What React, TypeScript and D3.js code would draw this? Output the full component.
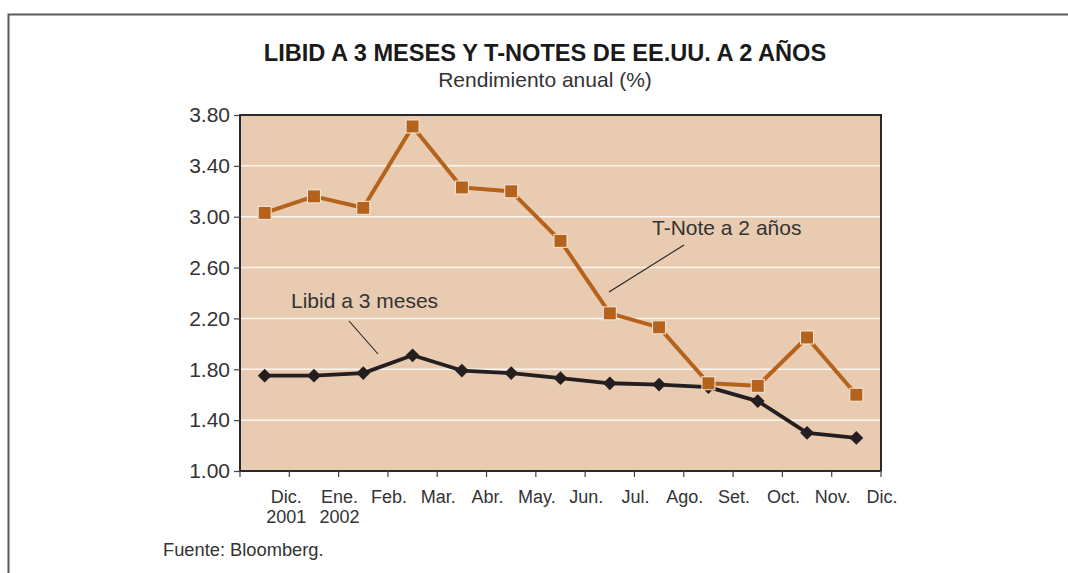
import React, { useRef, useEffect } from "react";
import * as d3 from "d3";

const months = ["Dic.", "Ene.", "Feb.", "Mar.", "Abr.", "May.", "Jun.", "Jul.", "Ago.", "Set.", "Oct.", "Nov.", "Dic."];
const years = ["2001", "2002", "", "", "", "", "", "", "", "", "", "", ""];
const tnote = [3.03, 3.16, 3.07, 3.71, 3.23, 3.2, 2.81, 2.24, 2.13, 1.69, 1.67, 2.05, 1.6];
const libid = [1.75, 1.75, 1.77, 1.91, 1.79, 1.77, 1.73, 1.69, 1.68, 1.66, 1.55, 1.3, 1.26];
const yTicks = [1.0, 1.4, 1.8, 2.2, 2.6, 3.0, 3.4, 3.8];

const width = 1068;
const height = 573;
const marginLeft = 240;
const marginRight = 187;
const marginTop = 115;
const marginBottom = 102;

const font = "'Liberation Sans', Arial, Helvetica, sans-serif";
const ink = "#333333";
const orange = "#b5631c";
const plotFill = "#e8cbb0";

const App = () => {
  const svgRef = useRef<SVGSVGElement>(null);

  useEffect(() => {
    const svg = d3.select(svgRef.current);
    svg.selectAll("*").remove();

    const plotW = width - marginLeft - marginRight;
    const plotH = height - marginTop - marginBottom;
    const idx = d3.range(months.length);

    // each month occupies a band; the points sit in the middle of the band
    const x = d3.scaleBand<number>().domain(idx).range([marginLeft, marginLeft + plotW]).padding(0);
    const y = d3.scaleLinear().domain([1, 3.8]).range([marginTop + plotH, marginTop]);
    const cx = (i: number) => (x(i) as number) + x.bandwidth() / 2;

    // outer frame
    svg.append("rect")
      .attr("x", 8.5).attr("y", 14.5)
      .attr("width", width + 20).attr("height", height + 20)
      .attr("fill", "none").attr("stroke", "#5a5a5a").attr("stroke-width", 2);

    // plot background
    svg.append("rect")
      .attr("x", marginLeft).attr("y", marginTop)
      .attr("width", plotW).attr("height", plotH)
      .attr("fill", plotFill);

    // white grid lines
    svg.append("g")
      .selectAll("line")
      .data(yTicks.slice(1, -1))
      .join("line")
      .attr("x1", marginLeft).attr("x2", marginLeft + plotW)
      .attr("y1", d => y(d)).attr("y2", d => y(d))
      .attr("stroke", "#fbf5ef").attr("stroke-width", 1.5);

    // plot border (left, top, right)
    svg.append("path")
      .attr("d", `M${marginLeft},${marginTop + plotH}V${marginTop}H${marginLeft + plotW}V${marginTop + plotH}`)
      .attr("fill", "none").attr("stroke", "#2a2a2a").attr("stroke-width", 2);

    // y axis
    const yAxis = svg.append("g")
      .attr("transform", `translate(${marginLeft},0)`)
      .call(d3.axisLeft(y).tickValues(yTicks).tickFormat(d3.format(".2f")).tickSize(6).tickPadding(4));
    yAxis.select(".domain").remove();
    yAxis.selectAll("line").attr("stroke", "#444").attr("stroke-width", 1.2);
    yAxis.selectAll("text")
      .attr("font-family", font).attr("font-size", 21).attr("fill", ink);

    // x axis: ticks at band edges
    const edges = d3.range(months.length + 1).map(i => marginLeft + i * x.bandwidth());
    svg.append("line")
      .attr("x1", marginLeft).attr("x2", marginLeft + plotW)
      .attr("y1", marginTop + plotH).attr("y2", marginTop + plotH)
      .attr("stroke", "#2a2a2a").attr("stroke-width", 2);
    svg.append("g")
      .selectAll("line")
      .data(edges)
      .join("line")
      .attr("x1", d => d).attr("x2", d => d)
      .attr("y1", marginTop + plotH).attr("y2", marginTop + plotH + 6)
      .attr("stroke", "#444").attr("stroke-width", 1.2);

    const labelX = (i: number) => edges[i + 1] + (i === 0 ? -3 : 1);
    const xl = svg.append("g")
      .attr("font-family", font).attr("font-size", 18).attr("fill", ink)
      .attr("text-anchor", "middle");
    xl.selectAll("text.m")
      .data(months)
      .join("text")
      .attr("class", "m")
      .attr("x", (d, i) => labelX(i))
      .attr("y", marginTop + plotH + 32)
      .text(d => d);
    xl.selectAll("text.yr")
      .data(years)
      .join("text")
      .attr("class", "yr")
      .attr("x", (d, i) => labelX(i))
      .attr("y", marginTop + plotH + 52)
      .text(d => d);

    // Libid line and diamonds
    const line = d3.line<number>().x((d, i) => cx(i)).y(d => y(d));
    svg.append("path")
      .datum(libid)
      .attr("d", line)
      .attr("fill", "none").attr("stroke", "#231f20").attr("stroke-width", 3.8)
      .attr("stroke-linejoin", "round");
    svg.append("g")
      .selectAll("path")
      .data(libid)
      .join("path")
      .attr("d", d3.symbol(d3.symbolSquare, 95)())
      .attr("transform", (d, i) => `translate(${cx(i)},${y(d)}) rotate(45)`)
      .attr("fill", "#231f20");

    // T-Note line and squares
    svg.append("path")
      .datum(tnote)
      .attr("d", line)
      .attr("fill", "none").attr("stroke", orange).attr("stroke-width", 4)
      .attr("stroke-linejoin", "round");
    svg.append("g")
      .selectAll("rect")
      .data(tnote)
      .join("rect")
      .attr("x", (d, i) => cx(i) - 6.5).attr("y", d => y(d) - 6.5)
      .attr("width", 13).attr("height", 13)
      .attr("fill", orange).attr("stroke", "#f6e9dc").attr("stroke-width", 1);

    // annotations
    svg.append("text")
      .attr("x", 652).attr("y", 235)
      .attr("font-family", font).attr("font-size", 21).attr("fill", ink)
      .text("T-Note a 2 años");
    svg.append("line")
      .attr("x1", 684).attr("y1", 245).attr("x2", 609).attr("y2", 292)
      .attr("stroke", "#222").attr("stroke-width", 1.1);
    svg.append("text")
      .attr("x", 291).attr("y", 308)
      .attr("font-family", font).attr("font-size", 21).attr("fill", ink)
      .text("Libid a 3 meses");
    svg.append("line")
      .attr("x1", 349).attr("y1", 321).attr("x2", 378).attr("y2", 354)
      .attr("stroke", "#222").attr("stroke-width", 1.1);

    // titles
    svg.append("text")
      .attr("x", 545).attr("y", 61)
      .attr("text-anchor", "middle")
      .attr("font-family", font).attr("font-size", 23.6).attr("font-weight", "bold").attr("fill", "#1a1a1a")
      .text("LIBID A 3 MESES Y T-NOTES DE EE.UU. A 2 AÑOS");
    svg.append("text")
      .attr("x", 545).attr("y", 87)
      .attr("text-anchor", "middle")
      .attr("font-family", font).attr("font-size", 21).attr("fill", ink)
      .text("Rendimiento anual (%)");

    svg.append("text")
      .attr("x", 163).attr("y", 556)
      .attr("font-family", font).attr("font-size", 18.3).attr("fill", ink)
      .text("Fuente: Bloomberg.");
  }, []);

  return (
    <div style={{ position: "fixed", left: 0, top: 0, background: "#fff" }}>
      <svg ref={svgRef} width={width} height={height} style={{ display: "block" }} />
    </div>
  );
};

export default App;
